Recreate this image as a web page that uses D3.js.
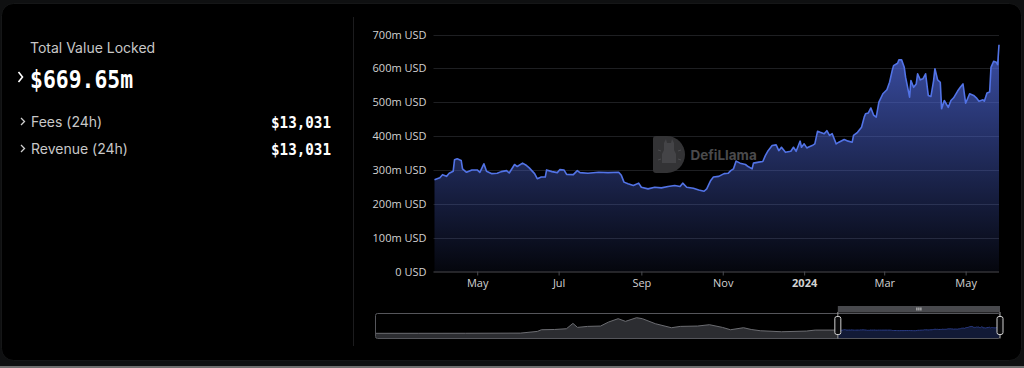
<!DOCTYPE html>
<html>
<head>
<meta charset="utf-8">
<script src="https://cdn.jsdelivr.net/npm/d3@7"></script>
<style>
  html, body { margin: 0; padding: 0; background: #0f1011; }
  svg { display: block; }
</style>
</head>
<body>
<svg id="chart" width="1024" height="368"></svg>
<script>
// TVL, daily-ish samples (millions USD)
var tvlDates = [
  '2023-03-30','2023-04-03','2023-04-05','2023-04-08','2023-04-10','2023-04-13','2023-04-14','2023-04-16','2023-04-19','2023-04-20','2023-04-23','2023-04-27',
  '2023-05-01','2023-05-03','2023-05-06','2023-05-08','2023-05-12','2023-05-16','2023-05-19','2023-05-23','2023-05-25','2023-05-29','2023-05-31',
  '2023-06-04','2023-06-07','2023-06-09','2023-06-13','2023-06-15','2023-06-18','2023-06-21','2023-06-22','2023-06-26','2023-06-30',
  '2023-07-02','2023-07-05','2023-07-07','2023-07-12','2023-07-15','2023-07-17','2023-07-23','2023-07-31',
  '2023-08-07','2023-08-15','2023-08-17','2023-08-19','2023-08-22','2023-08-26','2023-08-30',
  '2023-09-01','2023-09-06','2023-09-11','2023-09-16','2023-09-21','2023-09-26','2023-09-30',
  '2023-10-02','2023-10-05','2023-10-10','2023-10-14','2023-10-18','2023-10-20','2023-10-23','2023-10-25','2023-10-29',
  '2023-11-02','2023-11-05','2023-11-07','2023-11-09','2023-11-11','2023-11-14','2023-11-18','2023-11-20','2023-11-23','2023-11-24','2023-11-28',
  '2023-12-01','2023-12-03','2023-12-05','2023-12-08','2023-12-11','2023-12-13','2023-12-15','2023-12-18','2023-12-22','2023-12-24','2023-12-26','2023-12-29','2023-12-30',
  '2024-01-01','2024-01-03','2024-01-04','2024-01-07','2024-01-09','2024-01-11','2024-01-13','2024-01-16','2024-01-18','2024-01-20','2024-01-22','2024-01-25','2024-01-27','2024-01-31',
  '2024-02-03','2024-02-06','2024-02-07','2024-02-10','2024-02-13','2024-02-15','2024-02-16','2024-02-18','2024-02-20','2024-02-22','2024-02-24','2024-02-26','2024-02-29',
  '2024-03-03','2024-03-05','2024-03-07','2024-03-08','2024-03-11','2024-03-12','2024-03-14','2024-03-16','2024-03-17','2024-03-20','2024-03-21','2024-03-23','2024-03-25','2024-03-26','2024-03-28','2024-03-30',
  '2024-04-01','2024-04-03','2024-04-05','2024-04-07','2024-04-08','2024-04-10','2024-04-12','2024-04-13','2024-04-15','2024-04-18','2024-04-20','2024-04-22','2024-04-25','2024-04-27','2024-04-29',
  '2024-05-01','2024-05-04','2024-05-07','2024-05-09','2024-05-11','2024-05-14','2024-05-15','2024-05-17','2024-05-19','2024-05-20','2024-05-22','2024-05-24','2024-05-25','2024-05-26'
];
var tvlValues = [
  271, 277, 286, 281, 290, 296, 330, 333, 328, 303, 293, 300,
  300, 293, 318, 296, 289, 290, 295, 298, 291, 316, 310,
  320, 313, 306, 289, 274, 279, 279, 300, 295, 292,
  301, 300, 287, 286, 298, 292, 290, 293,
  292, 293, 284, 264, 259, 254, 261,
  249, 244, 249, 247, 251, 254, 251,
  261, 249, 246, 241, 237, 244, 269, 279, 281,
  289, 290, 298, 303, 326, 320, 316, 310, 303, 320, 323,
  325, 343, 357, 372, 374, 357, 367, 352, 355, 367, 355, 385, 367,
  377, 365, 367, 372, 377, 414, 411, 407, 416, 402, 407, 377, 382, 390,
  385, 382, 402, 411, 426, 456, 466, 468, 483, 462, 456, 500, 525,
  537, 559, 594, 608, 615, 625, 625, 603, 574, 515, 564, 544, 554, 584, 566, 569,
  584, 520, 517, 564, 599, 566, 559, 481, 505, 485, 505, 513, 533, 544, 554,
  497, 525, 520, 513, 503, 507, 503, 527, 530, 603, 621, 618, 611, 669.65
];

// earlier history, only visible in the zoom slider (millions USD)
var earlyDates = [
  '2019-12-10','2020-04-01','2020-08-01','2020-12-22','2021-02-04','2021-02-15','2021-03-21','2021-04-21',
  '2021-05-08','2021-05-20','2021-06-15','2021-07-19','2021-08-09','2021-09-03','2021-09-22','2021-10-21',
  '2021-11-05','2021-12-09','2022-01-20','2022-02-12','2022-03-29','2022-04-29','2022-06-02','2022-06-23',
  '2022-07-27','2022-08-16','2022-09-09','2022-11-03','2023-01-07','2023-01-30','2023-03-25'
];
var earlyValues = [
  2, 3, 5, 20, 175, 328, 350, 419,
  908, 542, 633, 664, 1031, 1336, 1092, 1427,
  1336, 877, 511, 633, 664, 786, 542, 328,
  511, 350, 237, 145, 206, 297, 297
];

var yTicks = [0, 100, 200, 300, 400, 500, 600, 700];
var headlineLabel = 'Total Value Locked';
var headlineValue = '$669.65m';
var summaryLabels = ['Fees (24h)', 'Revenue (24h)'];
var summaryValues = ['$13,031', '$13,031'];

var parse = d3.timeParse('%Y-%m-%d');
var data = tvlDates.map(function(d, i) {
  return { date: parse(d), val: tvlValues[i] };
});
var fullSeries = earlyDates.map(function(d, i) {
  return { date: parse(d), val: earlyValues[i] };
}).concat(data);

var svg = d3.select('#chart');

// card + frame
svg.append('rect').attr('x', 0).attr('y', 0).attr('width', 1024).attr('height', 368).attr('fill', '#0f1011');
svg.append('rect').attr('x', 0).attr('y', 366).attr('width', 1024).attr('height', 2).attr('fill', '#707070');
svg.append('rect')
  .attr('x', 1.5).attr('y', 3.5).attr('width', 1020).attr('height', 357)
  .attr('rx', 12).attr('ry', 12)
  .attr('fill', '#000').attr('stroke', '#151617');
svg.append('line')
  .attr('x1', 353.5).attr('x2', 353.5).attr('y1', 17).attr('y2', 346)
  .attr('stroke', '#1c1c1e');

// left summary panel
var panel = svg.append('g').attr('font-family', 'Inter, "Noto Sans", sans-serif');
panel.append('text')
  .attr('x', 30).attr('y', 53)
  .attr('font-size', 14).attr('fill', '#c8c8c8')
  .text(headlineLabel);
panel.append('path')
  .attr('d', 'M18.5,72 L22.5,77 L18.5,82')
  .attr('fill', 'none').attr('stroke', '#fff').attr('stroke-width', 1.6);
panel.append('text')
  .attr('x', 30).attr('y', 87.5)
  .attr('font-family', '"DejaVu Sans Mono", monospace').attr('font-weight', 'bold')
  .attr('font-size', 24).attr('fill', '#fff')
  .attr('textLength', 103).attr('lengthAdjust', 'spacingAndGlyphs')
  .text(headlineValue);

var rows = panel.selectAll('.row').data(summaryLabels).enter().append('g')
  .attr('class', 'row')
  .attr('transform', function(d, i) { return 'translate(0,' + (121.5 + i * 27) + ')'; });
rows.append('path')
  .attr('d', 'M21,-3.5 L24.5,0 L21,3.5')
  .attr('fill', 'none').attr('stroke', '#cfcfcf').attr('stroke-width', 1.3);
rows.append('text')
  .attr('x', 31).attr('y', 5)
  .attr('font-size', 14).attr('fill', '#c8c8c8')
  .text(function(d) { return d; });
rows.append('text')
  .attr('x', 331).attr('y', 6)
  .attr('text-anchor', 'end')
  .attr('font-family', '"DejaVu Sans Mono", monospace').attr('font-weight', 'bold')
  .attr('font-size', 15).attr('fill', '#fff')
  .attr('textLength', 60).attr('lengthAdjust', 'spacingAndGlyphs')
  .text(function(d, i) { return summaryValues[i]; });

// main chart
var plot = { left: 434.5, right: 999, top: 34.5, bottom: 271.5 };
var x = d3.scaleTime()
  .domain(d3.extent(data, function(d) { return d.date; }))
  .range([plot.left, plot.right]);
var y = d3.scaleLinear().domain([0, 700]).range([plot.bottom, plot.top]);

var defs = svg.append('defs');
var grad = defs.append('linearGradient')
  .attr('id', 'tvlFill').attr('gradientUnits', 'userSpaceOnUse')
  .attr('x1', 0).attr('x2', 0)
  .attr('y1', y(d3.max(tvlValues))).attr('y2', y(0));
grad.append('stop').attr('offset', 0).attr('stop-color', '#4e68dc').attr('stop-opacity', 0.75);
grad.append('stop').attr('offset', 1).attr('stop-color', '#4e68dc').attr('stop-opacity', 0.06);

var grid = svg.append('g').attr('class', 'grid');
grid.selectAll('line').data(yTicks.filter(function(t) { return t > 0; })).enter().append('line')
  .attr('x1', plot.left - 1).attr('x2', plot.right)
  .attr('y1', function(d) { return Math.round(y(d)) + 0.5; })
  .attr('y2', function(d) { return Math.round(y(d)) + 0.5; })
  .attr('stroke', '#1e1f22');

var yAxis = d3.axisLeft(y)
  .tickValues(yTicks)
  .tickSize(0)
  .tickPadding(8)
  .tickFormat(function(d) { return d === 0 ? '0 USD' : d + 'm USD'; });
var yG = svg.append('g')
  .attr('transform', 'translate(' + plot.left + ',0)')
  .call(yAxis);
yG.select('.domain').remove();
yG.selectAll('text')
  .attr('font-family', '"Open Sans", "Noto Sans", sans-serif')
  .attr('font-size', 11).attr('fill', '#d2d2d2');

var area = d3.area()
  .x(function(d) { return x(d.date); })
  .y0(y(0))
  .y1(function(d) { return y(d.val); });
var line = d3.line()
  .x(function(d) { return x(d.date); })
  .y(function(d) { return y(d.val); });

// watermark, drawn under the series
var mark = svg.append('g');
mark.append('path')
  .attr('d', 'M656,136 H667 A18,18.5 0 0 1 667,173 H656 A3,3 0 0 1 653,170 V139 A3,3 0 0 1 656,136 Z')
  .attr('fill', '#333335');
mark.append('path')
  .attr('d', 'M664,143 l2,-4 l1,4 h4 l1,-4 l2,4 v7 l2,4 v9 h-14 v-9 l2,-4 z')
  .attr('fill', '#444447');
mark.selectAll('.tickmark').data([[658, 150, 661, 151], [658, 160, 661, 159], [681, 150, 678, 151], [681, 160, 678, 159]])
  .enter().append('line')
  .attr('x1', function(d) { return d[0]; }).attr('y1', function(d) { return d[1]; })
  .attr('x2', function(d) { return d[2]; }).attr('y2', function(d) { return d[3]; })
  .attr('stroke', '#4a4a4d').attr('stroke-width', 1);
mark.append('text')
  .attr('x', 690.5).attr('y', 159.5)
  .attr('font-family', 'Inter, "Noto Sans", sans-serif').attr('font-weight', 'bold')
  .attr('font-size', 13.5).attr('fill', '#4a4a4c')
  .text('DefiLlama');

svg.append('path').datum(data)
  .attr('d', area)
  .attr('fill', 'url(#tvlFill)');
svg.append('path').datum(data)
  .attr('d', line)
  .attr('fill', 'none')
  .attr('stroke', '#5273e6')
  .attr('stroke-width', 1.6)
  .attr('stroke-linejoin', 'round');

var xAxis = d3.axisBottom(x)
  .ticks(d3.timeMonth.every(2))
  .tickSize(4)
  .tickPadding(4)
  .tickFormat(function(d) {
    return d.getMonth() === 0 ? d3.timeFormat('%Y')(d) : d3.timeFormat('%b')(d);
  });
var xG = svg.append('g')
  .attr('transform', 'translate(0,' + plot.bottom + ')')
  .call(xAxis);
xG.select('.domain').attr('stroke', '#4a4b50').attr('d', 'M' + (plot.left - 1) + ',0.5H' + plot.right);
xG.selectAll('.tick line').attr('stroke', '#4a4b50');
xG.selectAll('text')
  .attr('font-family', '"Open Sans", "Noto Sans", sans-serif')
  .attr('font-size', 11).attr('fill', '#d2d2d2')
  .attr('font-weight', function(d) { return d.getMonth() === 0 ? 'bold' : null; });

// zoom slider
var slider = { left: 375.5, right: 1000, top: 313, bottom: 338 };
var ox = d3.scaleTime()
  .domain(d3.extent(fullSeries, function(d) { return d.date; }))
  .range([slider.left, slider.right]);
var ext = d3.extent(fullSeries, function(d) { return d.val; });
var pad = (ext[1] - ext[0]) * 0.3;
var oy = d3.scaleLinear().domain([ext[0] - pad, ext[1] + pad]).range([slider.bottom, slider.top]);
var selX0 = ox(data[0].date);
var selX1 = ox(data[data.length - 1].date);

var oArea = d3.area()
  .x(function(d) { return ox(d.date); })
  .y0(slider.bottom)
  .y1(function(d) { return oy(d.val); });
var oLine = d3.line()
  .x(function(d) { return ox(d.date); })
  .y(function(d) { return oy(d.val); });

defs.append('clipPath').attr('id', 'outside')
  .append('rect').attr('x', slider.left).attr('y', slider.top).attr('width', selX0 - slider.left).attr('height', slider.bottom - slider.top);
defs.append('clipPath').attr('id', 'inside')
  .append('rect').attr('x', selX0).attr('y', slider.top).attr('width', selX1 - selX0).attr('height', slider.bottom - slider.top);

var og = svg.append('g');
og.append('path').datum(fullSeries).attr('d', oArea).attr('fill', '#2c2d31').attr('clip-path', 'url(#outside)');
og.append('path').datum(fullSeries).attr('d', oLine).attr('fill', 'none').attr('stroke', '#6c6d72').attr('stroke-width', 1).attr('clip-path', 'url(#outside)');
og.append('path').datum(fullSeries).attr('d', oArea).attr('fill', '#121a36').attr('clip-path', 'url(#inside)');
og.append('path').datum(fullSeries).attr('d', oLine).attr('fill', 'none').attr('stroke', '#2a3c86').attr('stroke-width', 1).attr('clip-path', 'url(#inside)');

og.append('rect')
  .attr('x', slider.left).attr('y', slider.top + 0.5)
  .attr('width', slider.right - slider.left).attr('height', slider.bottom - slider.top)
  .attr('rx', 2).attr('fill', 'none').attr('stroke', '#55565b');

// move handle bar over the selection
og.append('rect')
  .attr('x', selX0).attr('y', 306).attr('width', selX1 - selX0).attr('height', 6.5)
  .attr('fill', '#48494d');
og.selectAll('.grip').data([-2, 0, 2]).enter().append('line')
  .attr('x1', function(d) { return (selX0 + selX1) / 2 + d; })
  .attr('x2', function(d) { return (selX0 + selX1) / 2 + d; })
  .attr('y1', 307.5).attr('y2', 310.5)
  .attr('stroke', '#d8d8d8').attr('stroke-width', 1);

og.selectAll('.edge').data([selX0, selX1]).enter().append('line')
  .attr('x1', function(d) { return d; }).attr('x2', function(d) { return d; })
  .attr('y1', 312).attr('y2', slider.bottom + 0.5)
  .attr('stroke', '#9a9a9a');
og.selectAll('.handle').data([selX0, selX1]).enter().append('rect')
  .attr('x', function(d) { return d - 3; }).attr('y', 316.5)
  .attr('width', 6).attr('height', 18).attr('rx', 2)
  .attr('fill', '#0b0b0c').attr('stroke', '#d0d0d0').attr('stroke-width', 1);
</script>
</body>
</html>
